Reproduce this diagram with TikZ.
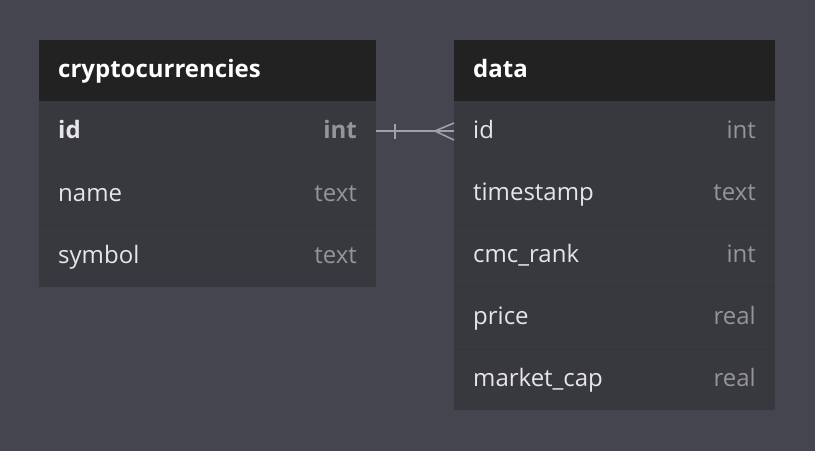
\documentclass[tikz,border=0pt]{standalone}
\usepackage{fontspec}
\setmainfont{Open Sans}
\begin{document}
\begin{tikzpicture}[x=1pt,y=-1pt,
  sep/.style={draw=sepcol, line width=0.7pt},
  hdrtext/.style={anchor=base west, text=white, font=\fontsize{24}{28}\selectfont\bfseries, inner sep=0pt},
  fname/.style={anchor=base west, text=namecol, font=\fontsize{24}{28}\selectfont, inner sep=0pt},
  ftype/.style={anchor=base east, text=typecol, font=\fontsize{24}{28}\selectfont, inner sep=0pt},
  keyb/.style={font=\fontsize{24}{28}\selectfont\bfseries},
  conn/.style={draw=conncol, line width=1.6pt}
]
\definecolor{bgcol}{HTML}{45454F}
\definecolor{hdrcol}{HTML}{222222}
\definecolor{bodycol}{HTML}{38383F}
\definecolor{sepcol}{HTML}{35353C}
\definecolor{namecol}{HTML}{E6E6E6}
\definecolor{typecol}{HTML}{959595}
\definecolor{conncol}{HTML}{A0A0A8}
\fill[bgcol] (0,0) rectangle (815,451);
\useasboundingbox (0,0) rectangle (815,451);
% left table
\fill[bodycol] (39,101) rectangle (376,287);
\fill[hdrcol] (39,40) rectangle (376,101);
\draw[sep] (39,163) -- (376,163);
\draw[sep] (39,225) -- (376,225);
\node[hdrtext] (ct) at (58,77) {cryptocurrencies};
\node[fname, keyb] (cid) at (58,138) {id};
\node[ftype, keyb] (cidt) at (357,138) {int};
\node[fname] (cname) at (58,201) {name};
\node[ftype] (cnamet) at (357,201) {text};
\node[fname] (csym) at (58,263) {symbol};
\node[ftype] (csymt) at (357,263) {text};
% right table
\fill[bodycol] (454,101) rectangle (775,410);
\fill[hdrcol] (454,40) rectangle (775,101);
\foreach \yy in {163,225,287,349} \draw[sep] (454,\yy) -- (775,\yy);
\node[hdrtext] (dt) at (473,77) {data};
\node[fname] (did) at (473,138) {id};
\node[ftype] (didt) at (756,138) {int};
\node[fname] (dts) at (473,200) {timestamp};
\node[ftype] (dtst) at (756,200) {text};
\node[fname] (drank) at (473,262) {cmc\_rank};
\node[ftype] (drankt) at (756,262) {int};
\node[fname] (dprice) at (473,324) {price};
\node[ftype] (dpricet) at (756,324) {real};
\node[fname] (dcap) at (473,386) {market\_cap};
\node[ftype] (dcapt) at (756,386) {real};
% connector
\coordinate (L) at (376,131);
\coordinate (R) at (454,131);
\coordinate (bar1) at (395,124);
\coordinate (bar2) at (395,139);
\coordinate (apex) at (435,131);
\coordinate (f1) at (454,123);
\coordinate (f2) at (454,140);
\draw[conn] (L) -- (R);
\draw[conn] (bar1) -- (bar2);
\draw[conn] (f1) -- (apex) -- (f2);
\end{tikzpicture}
\end{document}
